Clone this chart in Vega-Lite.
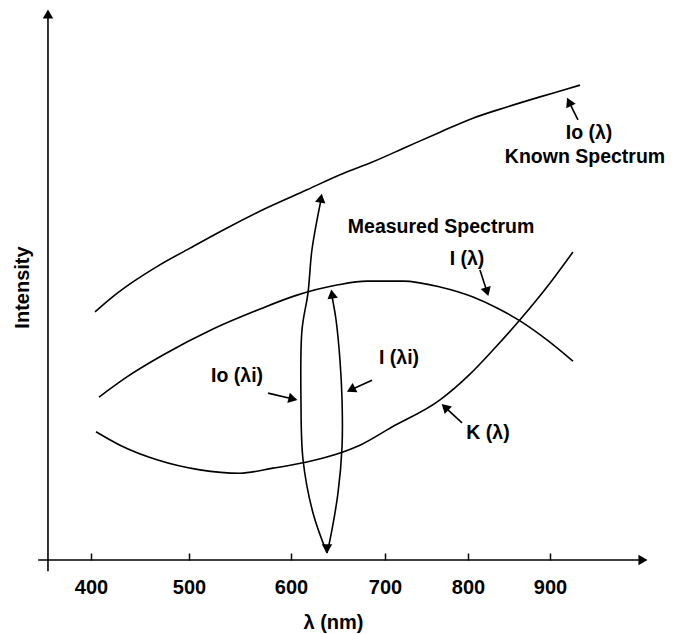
{
  "$schema": "https://vega.github.io/schema/vega-lite/v6.json",
  "width": 676,
  "height": 560,
  "autosize": "none",
  "padding": {"left": 0, "top": 0, "right": 0, "bottom": 74},
  "background": "white",
  "config": {"view": {"stroke": null}, "font": "Liberation Sans"},
  "datasets": {
    "curves": [
      {"s": "Io", "i": 0, "x": 404.1, "y": 44.3},
      {"s": "Io", "i": 1, "x": 421.4, "y": 46.9},
      {"s": "Io", "i": 2, "x": 439.8, "y": 49.3},
      {"s": "Io", "i": 3, "x": 467.3, "y": 52.4},
      {"s": "Io", "i": 4, "x": 501.0, "y": 55.7},
      {"s": "Io", "i": 5, "x": 537.3, "y": 59.3},
      {"s": "Io", "i": 6, "x": 576.5, "y": 62.9},
      {"s": "Io", "i": 7, "x": 617.0, "y": 66.1},
      {"s": "Io", "i": 8, "x": 652.1, "y": 68.8},
      {"s": "Io", "i": 9, "x": 687.2, "y": 71.1},
      {"s": "Io", "i": 10, "x": 726.5, "y": 73.8},
      {"s": "Io", "i": 11, "x": 766.3, "y": 76.4},
      {"s": "Io", "i": 12, "x": 806.1, "y": 78.9},
      {"s": "Io", "i": 13, "x": 847.6, "y": 80.9},
      {"s": "Io", "i": 14, "x": 887.8, "y": 82.7},
      {"s": "Io", "i": 15, "x": 920.7, "y": 84.1},
      {"s": "Io", "i": 16, "x": 936.6, "y": 84.8},
      {"s": "I", "i": 0, "x": 408.2, "y": 29.1},
      {"s": "I", "i": 1, "x": 436.7, "y": 32.7},
      {"s": "I", "i": 2, "x": 473.5, "y": 36.6},
      {"s": "I", "i": 3, "x": 523.5, "y": 41.25},
      {"s": "I", "i": 4, "x": 566.7, "y": 44.6},
      {"s": "I", "i": 5, "x": 606.4, "y": 47.3},
      {"s": "I", "i": 6, "x": 648.9, "y": 49.1},
      {"s": "I", "i": 7, "x": 680.9, "y": 49.8},
      {"s": "I", "i": 8, "x": 721.7, "y": 49.8},
      {"s": "I", "i": 9, "x": 766.3, "y": 48.75},
      {"s": "I", "i": 10, "x": 806.1, "y": 46.96},
      {"s": "I", "i": 11, "x": 835.4, "y": 45.0},
      {"s": "I", "i": 12, "x": 863.4, "y": 42.7},
      {"s": "I", "i": 13, "x": 896.3, "y": 39.3},
      {"s": "I", "i": 14, "x": 928.0, "y": 35.5},
      {"s": "K", "i": 0, "x": 405.1, "y": 22.9},
      {"s": "K", "i": 1, "x": 429.6, "y": 20.5},
      {"s": "K", "i": 2, "x": 467.3, "y": 17.9},
      {"s": "K", "i": 3, "x": 510.8, "y": 16.1},
      {"s": "K", "i": 4, "x": 550.0, "y": 15.5},
      {"s": "K", "i": 5, "x": 582.4, "y": 16.4},
      {"s": "K", "i": 6, "x": 617.0, "y": 17.5},
      {"s": "K", "i": 7, "x": 652.1, "y": 19.1},
      {"s": "K", "i": 8, "x": 673.4, "y": 20.5},
      {"s": "K", "i": 9, "x": 708.4, "y": 23.75},
      {"s": "K", "i": 10, "x": 766.3, "y": 28.6},
      {"s": "K", "i": 11, "x": 802.4, "y": 33.2},
      {"s": "K", "i": 12, "x": 830.5, "y": 37.5},
      {"s": "K", "i": 13, "x": 863.4, "y": 42.9},
      {"s": "K", "i": 14, "x": 896.3, "y": 48.75},
      {"s": "K", "i": 15, "x": 928.0, "y": 55.0}
    ],
    "lens": [
      {"s": "Lleft", "i": 0, "x": 638.3, "y": 1.25},
      {"s": "Lleft", "i": 1, "x": 623.4, "y": 8.4},
      {"s": "Lleft", "i": 2, "x": 612.8, "y": 17.9},
      {"s": "Lleft", "i": 3, "x": 610.6, "y": 28.6},
      {"s": "Lleft", "i": 4, "x": 611.7, "y": 41.1},
      {"s": "Lleft", "i": 5, "x": 618.1, "y": 47.7},
      {"s": "Lleft", "i": 6, "x": 622.3, "y": 55.4},
      {"s": "Lleft", "i": 7, "x": 631.9, "y": 64.3},
      {"s": "Lright", "i": 0, "x": 638.3, "y": 1.25},
      {"s": "Lright", "i": 1, "x": 641.5, "y": 3.6},
      {"s": "Lright", "i": 2, "x": 650.0, "y": 12.0},
      {"s": "Lright", "i": 3, "x": 654.3, "y": 20.2},
      {"s": "Lright", "i": 4, "x": 654.3, "y": 28.6},
      {"s": "Lright", "i": 5, "x": 652.1, "y": 35.7},
      {"s": "Lright", "i": 6, "x": 647.9, "y": 42.9},
      {"s": "Lright", "i": 7, "x": 643.6, "y": 47.1}
    ],
    "arrows": [
      {"x": 356.1, "y": -2, "x2": 356.1, "y2": 97},
      {"x": 346.1, "y": 0, "x2": 1013.4, "y2": 0},
      {"x": 934.1, "y": 78.6, "x2": 923.2, "y2": 81.8},
      {"x": 814.6, "y": 51.8, "x2": 823.2, "y2": 47.9},
      {"x": 686.2, "y": 32.1, "x2": 663.8, "y2": 30.4},
      {"x": 577.5, "y": 29.8, "x2": 602.1, "y2": 28.75},
      {"x": 792.8, "y": 24.5, "x2": 772.3, "y2": 27.3}
    ],
    "heads": [
      {"x": 356.1, "y": 97.5, "angle": 0},
      {"x": 1013.4, "y": 0, "angle": 90},
      {"x": 631.9, "y": 64.6, "angle": 10},
      {"x": 643.6, "y": 47.5, "angle": -9},
      {"x": 638.3, "y": 2.0, "angle": 180},
      {"x": 923.2, "y": 81.8, "angle": -25.6},
      {"x": 823.2, "y": 47.9, "angle": 163.5},
      {"x": 663.8, "y": 30.4, "angle": -117.5},
      {"x": 602.1, "y": 28.75, "angle": 103.6},
      {"x": 772.3, "y": 27.3, "angle": -46.5}
    ],
    "texts": [
      {"label": "Io (λ)", "x": 947.6, "y": 76.25},
      {"label": "Known Spectrum", "x": 942.7, "y": 72.0},
      {"label": "Measured Spectrum", "x": 767.5, "y": 59.5},
      {"label": "I (λ)", "x": 798.8, "y": 53.75},
      {"label": "I (λi)", "x": 716.9, "y": 36.1},
      {"label": "Io (λi)", "x": 547.1, "y": 32.9},
      {"label": "K (λ)", "x": 824.4, "y": 22.7}
    ]
  },
  "encoding": {
    "x": {
      "field": "x",
      "type": "quantitative",
      "scale": {
        "domain": [400, 500, 600, 700, 800, 900],
        "range": [91, 189, 291, 385, 468, 550],
        "nice": false,
        "zero": false
      },
      "axis": {
        "values": [400, 500, 600, 700, 800, 900],
        "domain": false,
        "grid": false,
        "ticks": true,
        "tickSize": -7,
        "tickColor": "black",
        "tickWidth": 1.5,
        "labelFont": "Liberation Sans",
        "labelFontSize": 20,
        "labelFontWeight": "bold",
        "labelColor": "black",
        "labelPadding": 24,
        "labelFlush": false,
        "labelOverlap": false,
        "title": "λ (nm)",
        "titleFont": "Liberation Sans",
        "titleFontSize": 20,
        "titleFontWeight": "bold",
        "titleColor": "black",
        "titleX": 333,
        "titleY": 62,
        "titleAlign": "center",
        "titleBaseline": "middle"
      }
    },
    "y": {
      "field": "y",
      "type": "quantitative",
      "scale": {"domain": [0, 100], "nice": false, "zero": false},
      "axis": {
        "domain": false,
        "grid": false,
        "ticks": false,
        "labels": false,
        "title": "Intensity",
        "titleFont": "Liberation Sans",
        "titleFontSize": 20,
        "titleFontWeight": "bold",
        "titleColor": "black",
        "titleX": 22,
        "titleY": 287,
        "titleAngle": -90,
        "titleAlign": "center",
        "titleBaseline": "middle"
      }
    }
  },
  "layer": [
    {
      "data": {"name": "curves"},
      "mark": {"type": "line", "interpolate": "monotone", "color": "black", "strokeWidth": 1.6},
      "encoding": {
        "detail": {"field": "s", "type": "nominal"},
        "order": {"field": "i", "type": "quantitative"}
      }
    },
    {
      "data": {"name": "lens"},
      "mark": {"type": "line", "interpolate": "catmull-rom", "color": "black", "strokeWidth": 1.6},
      "encoding": {
        "detail": {"field": "s", "type": "nominal"},
        "order": {"field": "i", "type": "quantitative"}
      }
    },
    {
      "data": {"name": "arrows"},
      "mark": {"type": "rule", "color": "black", "strokeWidth": 1.6},
      "encoding": {
        "x2": {"field": "x2"},
        "y2": {"field": "y2"}
      }
    },
    {
      "data": {"name": "heads"},
      "mark": {"type": "point", "shape": "triangle-up", "filled": true, "color": "black", "opacity": 1, "size": 110},
      "encoding": {
        "angle": {"field": "angle", "type": "quantitative", "scale": null}
      }
    },
    {
      "data": {"name": "texts"},
      "mark": {"type": "text", "align": "center", "baseline": "middle", "font": "Liberation Sans", "fontSize": 19.5, "fontWeight": "bold", "color": "black"},
      "encoding": {
        "text": {"field": "label", "type": "nominal"}
      }
    }
  ]
}
